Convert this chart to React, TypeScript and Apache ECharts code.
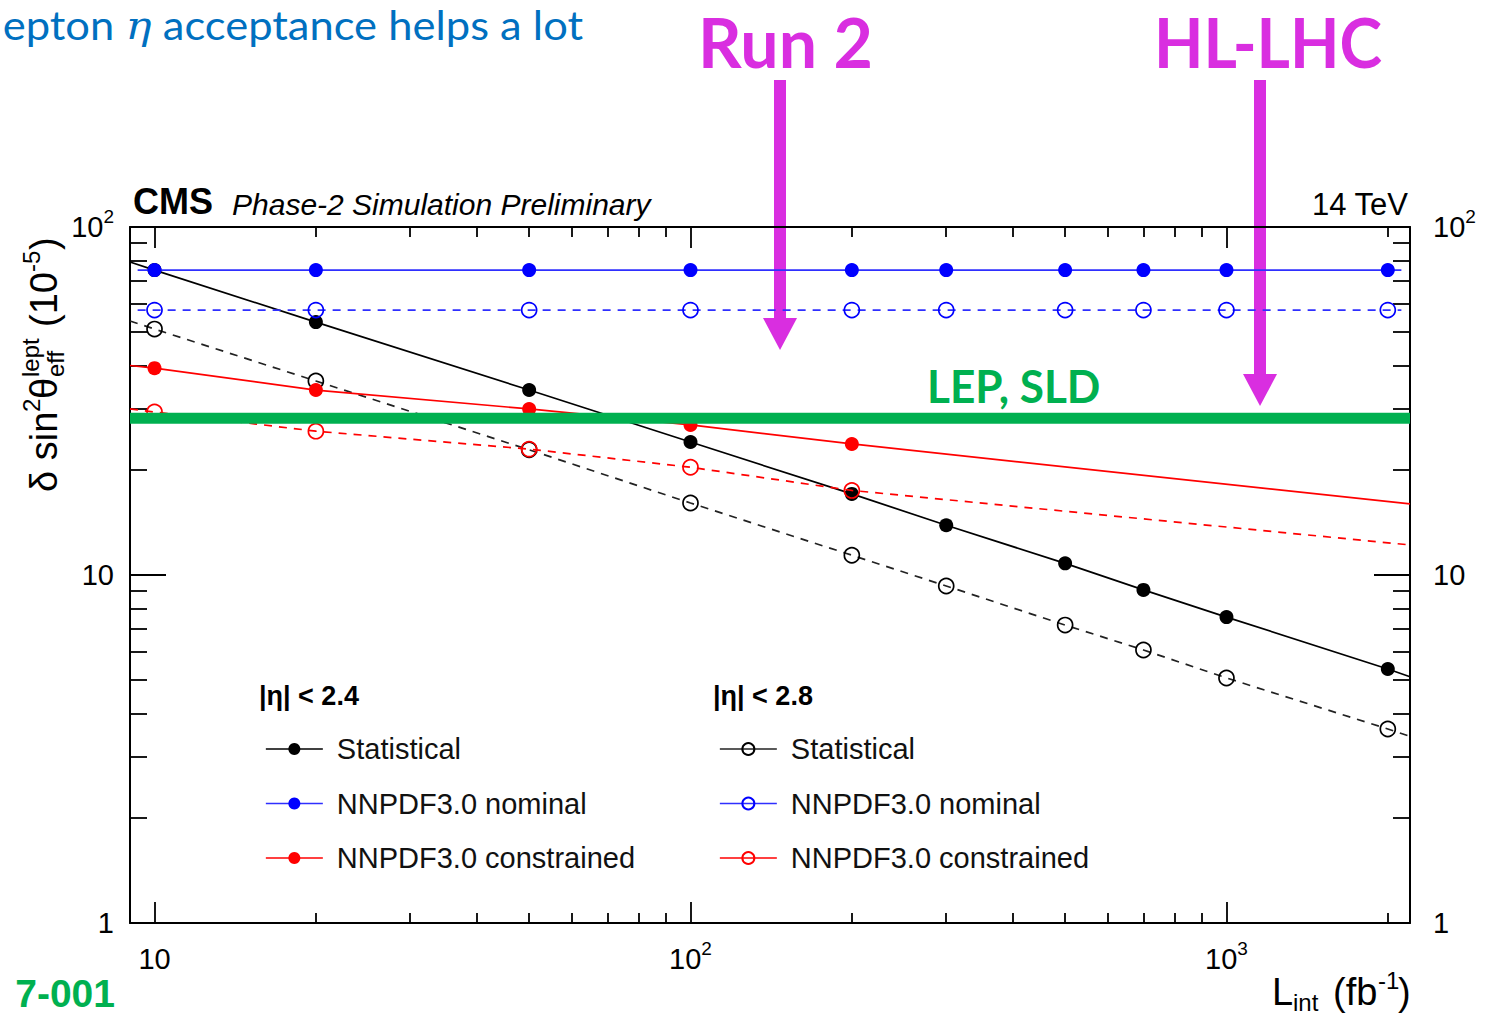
import React, { useEffect, useRef } from 'react';
import * as echarts from 'echarts';

// ---------------- data ----------------
const lumi = [10, 20, 50, 100, 200, 300, 500, 700, 1000, 2000];
const lumiConstrained = [10, 20, 50, 100, 200];

const statEta24 = [75.2, 53.3, 34.0, 24.1, 17.1, 13.9, 10.8, 9.06, 7.57, 5.37];
const statEta28 = [50.9, 36.1, 22.9, 16.1, 11.4, 9.3, 7.18, 6.09, 5.06, 3.61];
const nominalEta24 = [75.2, 75.2, 75.2, 75.2, 75.2, 75.2, 75.2, 75.2, 75.2, 75.2];
const nominalEta28 = [57.7, 57.7, 57.7, 57.7, 57.7, 57.7, 57.7, 57.7, 57.7, 57.7];
const constrainedEta24 = [39.3, 34.0, 30.0, 27.0, 23.8];
const constrainedEta28 = [29.4, 25.9, 23.0, 20.4, 17.5];

// fitted lines: values at the two ends of the drawn line
const fitRange = [9, 2200];
const nominalRange = [9.3, 2120];
const statEta24Fit = [79.3, 5.1];
const statEta28Fit = [53.7, 3.44];
const nominalEta24Fit = [75.2, 75.2];
const nominalEta28Fit = [57.7, 57.7];
const constrainedEta24Fit = [40.0, 16.0];
const constrainedEta28Fit = [30.0, 12.2];
const lepSld = 28.2;

const xMajor = [10, 100, 1000];
const xMinor = [20, 30, 40, 50, 60, 70, 80, 90, 200, 300, 400, 500, 600, 700, 800, 900, 2000];
const yMajor = [1, 10, 100];
const yMinor = [2, 3, 4, 5, 6, 7, 8, 9, 20, 30, 40, 50, 60, 70, 80, 90];

const legendEta24 = ['Statistical, |η| < 2.4', 'NNPDF3.0 nominal, |η| < 2.4', 'NNPDF3.0 constrained, |η| < 2.4'];
const legendEta28 = ['Statistical, |η| < 2.8', 'NNPDF3.0 nominal, |η| < 2.8', 'NNPDF3.0 constrained, |η| < 2.8'];

// ---------------- styles ----------------
const FONT = 'Liberation Sans';
const SLIDE_FONT = 'Lato';
const COL = {
  black: '#000000',
  blue: '#0000ff',
  blueLine: '#2f2fff',
  red: '#ff0000',
  green: '#00b050',
  magenta: '#d92ee0',
  slideBlue: '#0070c0',
};
const DASH = [8, 7];

function curve(
  name: string,
  xs: number[],
  ys: number[],
  range: number[],
  fit: number[],
  color: string,
  lineColor: string,
  open: boolean,
  dashed: boolean,
  z: number
) {
  const data: any[] = [{ value: [range[0], fit[0]], symbol: 'none' }];
  xs.forEach((x, i) => data.push([x, ys[i]]));
  data.push({ value: [range[1], fit[1]], symbol: 'none' });
  return {
    type: 'line',
    name,
    data,
    xAxisIndex: 0,
    yAxisIndex: 0,
    symbol: 'circle',
    symbolSize: open ? 15 : 14,
    showSymbol: true,
    itemStyle: open
      ? { color: 'rgba(0,0,0,0)', borderColor: color, borderWidth: 1.7 }
      : { color, borderWidth: 0 },
    lineStyle: { color: lineColor, width: 1.7, type: dashed ? DASH : 'solid' },
    emphasis: { disabled: true },
    silent: true,
    z,
  };
}

function supLabel(v: number) {
  const e = Math.round(Math.log10(v));
  if (e === 0) return '{b|1}';
  if (e === 1) return '{b|10}';
  return '{b|10}{s|' + e + '}';
}
const labelRich = {
  b: { fontSize: 29, fontFamily: FONT, color: '#000', lineHeight: 40, verticalAlign: 'middle' },
  s: { fontSize: 19, fontFamily: FONT, color: '#000', lineHeight: 16, verticalAlign: 'top' },
};

function logAxis(
  kind: 'x' | 'y',
  position: string,
  ticks: number[],
  tickLen: number,
  withLine: boolean,
  withLabel: boolean,
  labelMargin: number
) {
  return {
    type: 'log',
    logBase: 10,
    min: kind === 'x' ? fitRange[0] : 1,
    max: kind === 'x' ? fitRange[1] : 100,
    position,
    axisLine: { show: withLine, onZero: false, lineStyle: { color: '#000', width: 2 } },
    axisTick: {
      show: true,
      inside: true,
      length: tickLen,
      customValues: ticks,
      lineStyle: { color: '#000', width: 1.8 },
    },
    axisLabel: withLabel
      ? {
          show: true,
          customValues: ticks,
          formatter: supLabel,
          rich: labelRich,
          margin: labelMargin,
        }
      : { show: false },
    splitLine: { show: false },
    minorTick: { show: false },
    axisPointer: { show: false },
  };
}

function txt(x: number, y: number, text: string, size: number, extra: any = {}) {
  const align = extra.align || 'left';
  const va = extra.verticalAlign || 'middle';
  return {
    type: 'text',
    x,
    y,
    silent: true,
    rotation: extra.rotation || 0,
    scaleX: extra.scaleX || 1,
    style: {
      text,
      fontSize: size,
      lineHeight: extra.lineHeight,
      fontFamily: extra.fontFamily || FONT,
      fontWeight: extra.fontWeight || 'normal',
      fontStyle: extra.fontStyle || 'normal',
      fill: extra.fill || '#000',
      align,
      textAlign: align,
      verticalAlign: va,
      textVerticalAlign: va,
      rich: extra.rich,
    },
  };
}

function arrow(cx: number, top: number, headTop: number, tip: number) {
  return [
    {
      type: 'rect',
      silent: true,
      shape: { x: cx - 6, y: top, width: 12, height: headTop - top + 2 },
      style: { fill: COL.magenta },
    },
    {
      type: 'polygon',
      silent: true,
      shape: { points: [[cx - 17, headTop], [cx + 17, headTop], [cx, tip]] },
      style: { fill: COL.magenta },
    },
  ];
}

export default function App() {
  const ref = useRef<HTMLDivElement>(null);

  useEffect(() => {
    document.body.style.margin = '0';
    if (!ref.current) return;
    const chart = echarts.init(ref.current, null, { renderer: 'svg' });

    const legendCommon = {
      orient: 'vertical',
      itemWidth: 57,
      itemHeight: 15,
      itemGap: 24.5,
      padding: 0,
      selectedMode: false,
      formatter: (n: string) => n.split(',')[0],
      textStyle: { fontSize: 29, fontFamily: FONT, color: '#111', lineHeight: 30, padding: [0, 0, 0, 9] },
      lineStyle: { type: 'solid', width: 1.7 },
    };

    const option: any = {
      animation: false,
      backgroundColor: '#ffffff',
      textStyle: { fontFamily: FONT },
      grid: { left: 130, right: 81, top: 227, bottom: 93, containLabel: false, outerBoundsMode: 'none' },
      xAxis: [
        logAxis('x', 'bottom', xMajor, 21, true, true, 16),
        logAxis('x', 'bottom', xMinor, 10, false, false, 0),
        logAxis('x', 'top', xMajor, 21, true, false, 0),
        logAxis('x', 'top', xMinor, 10, false, false, 0),
      ],
      yAxis: [
        logAxis('y', 'left', yMajor, 36, true, true, 16),
        logAxis('y', 'left', yMinor, 17, false, false, 0),
        logAxis('y', 'right', yMajor, 36, true, true, 23),
        logAxis('y', 'right', yMinor, 17, false, false, 0),
      ],
      legend: [
        { ...legendCommon, left: 265, top: 734, data: legendEta24 },
        { ...legendCommon, left: 719, top: 734, data: legendEta28 },
      ],
      series: [
        curve(legendEta24[0], lumi, statEta24, fitRange, statEta24Fit, COL.black, COL.black, false, false, 2),
        curve(legendEta28[0], lumi, statEta28, fitRange, statEta28Fit, COL.black, '#222', true, true, 2),
        curve(legendEta24[1], lumi, nominalEta24, nominalRange, nominalEta24Fit, COL.blue, COL.blueLine, false, false, 3),
        curve(legendEta28[1], lumi, nominalEta28, nominalRange, nominalEta28Fit, COL.blue, COL.blueLine, true, true, 3),
        curve(legendEta24[2], lumiConstrained, constrainedEta24, fitRange, constrainedEta24Fit, COL.red, COL.red, false, false, 3),
        curve(legendEta28[2], lumiConstrained, constrainedEta28, fitRange, constrainedEta28Fit, COL.red, COL.red, true, true, 3),
        {
          type: 'line',
          name: 'LEP, SLD',
          data: [[fitRange[0], lepSld], [fitRange[1], lepSld]],
          symbol: 'none',
          lineStyle: { color: COL.green, width: 11 },
          emphasis: { disabled: true },
          silent: true,
          z: 4,
        },
      ],
      graphic: [
        // CMS header
        txt(133, 201, 'CMS', 36, { fontWeight: 'bold' }),
        txt(232, 204, 'Phase-2 Simulation Preliminary', 30, { fontStyle: 'italic' }),
        txt(1408, 204, '14 TeV', 31, { align: 'right' }),
        // legend headers
        txt(259, 696, '|η| < 2.4', 27, { fontWeight: 'bold' }),
        txt(713, 696, '|η| < 2.8', 27, { fontWeight: 'bold' }),
        // y axis title (rotated)
        {
          type: 'group',
          x: 57,
          y: 492,
          rotation: Math.PI / 2,
          silent: true,
          children: [
            txt(0, -13, 'δ sin', 38),
            txt(80, -26, '2', 24),
            txt(93, -13, 'θ', 38),
            txt(115, -27, 'lept', 24),
            txt(115, -2, 'eff', 24),
            txt(165, -13, '(10', 38),
            txt(220, -26, '-5', 24),
            txt(242, -13, ')', 38),
          ],
        },
        // x axis title
        txt(1272, 992, 'L', 38),
        txt(1293, 1002, 'int', 24, { lineHeight: 24 }),
        txt(1333, 992, '(fb', 38),
        txt(1378, 980, '-1', 24),
        txt(1398, 992, ')', 38),
        // slide annotations
        {
          type: 'text',
          x: 583,
          y: 25,
          scaleX: 1.088,
          silent: true,
          style: {
            text: '{n|epton }{e|η}{n| acceptance helps a lot}',
            align: 'right',
            textAlign: 'right',
            verticalAlign: 'middle',
            textVerticalAlign: 'middle',
            rich: {
              n: { fontSize: 40, lineHeight: 44, fontFamily: SLIDE_FONT, fill: COL.slideBlue, color: COL.slideBlue },
              e: {
                fontSize: 40,
                lineHeight: 44,
                fontFamily: 'DejaVu Serif',
                fontStyle: 'italic',
                fill: COL.slideBlue,
                color: COL.slideBlue,
              },
            },
          },
        },
        txt(698, 41.5, 'Run 2', 68, { fontFamily: SLIDE_FONT, fontWeight: 'bold', fill: COL.magenta }),
        txt(1154, 41.5, 'HL-LHC', 68, { fontFamily: SLIDE_FONT, fontWeight: 'bold', fill: COL.magenta, scaleX: 0.945 }),
        ...arrow(780, 80, 318, 350),
        ...arrow(1260, 80, 374, 406),
        txt(927, 386, 'LEP, SLD', 46, { fontFamily: SLIDE_FONT, fontWeight: 'bold', fill: COL.green, scaleX: 0.96 }),
        txt(115, 993, '7-001', 39, { fontWeight: 'bold', fill: COL.green, align: 'right' }),
      ],
    };

    chart.setOption(option);
    return () => chart.dispose();
  }, []);

  return (
    <div
      ref={ref}
      style={{ position: 'absolute', left: 0, top: 0, width: 1491, height: 1016, background: '#fff' }}
    />
  );
}
